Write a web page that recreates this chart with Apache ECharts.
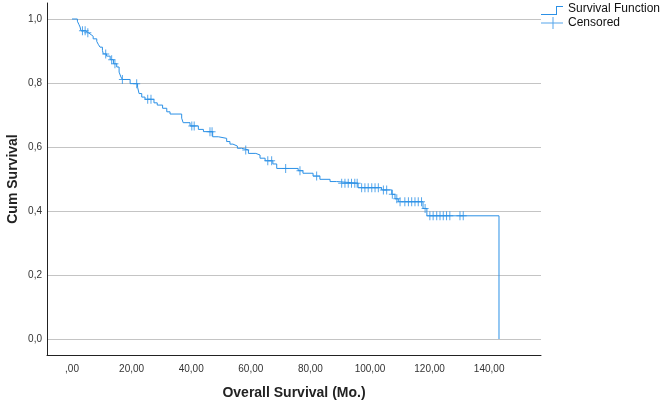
<!DOCTYPE html>
<html><head><meta charset="utf-8">
<script src="https://cdn.jsdelivr.net/npm/echarts@6/dist/echarts.min.js"></script>
<style>html,body{margin:0;padding:0;background:#fff}#c{width:663px;height:401px}</style>
</head><body><div id="c"></div>
<script>
// Kaplan-Meier step points: survival becomes surv[i] at times[i]
const times = [0, 1.8, 2.3, 2.7, 3.0, 4.6, 5.5, 6.4, 7.1, 8.3, 8.8, 9.4, 10.2, 10.5, 11.6, 12.8, 13.9, 15.0, 15.8, 16.4, 16.9, 19.5, 22.0, 22.5, 23.4, 24.5, 27.5, 28.6, 30.4, 31.8, 32.9, 36.8, 37.3, 39.6, 42.4, 44.1, 47.2, 49.1, 51.9, 53.0, 54.0, 55.5, 56.9, 59.2, 61.7, 63.1, 64.8, 67.4, 68.7, 75.9, 77.5, 80.9, 83.2, 86.6, 88.8, 96.0, 103.9, 107.3, 108.4, 109.5, 117.8, 119.1, 143.3];
const surv = [1.000, 0.993, 0.983, 0.975, 0.963, 0.957, 0.951, 0.946, 0.938, 0.930, 0.921, 0.912, 0.902, 0.891, 0.884, 0.873, 0.860, 0.850, 0.834, 0.819, 0.811, 0.798, 0.787, 0.767, 0.756, 0.749, 0.738, 0.731, 0.721, 0.710, 0.703, 0.690, 0.676, 0.666, 0.655, 0.648, 0.632, 0.627, 0.617, 0.609, 0.603, 0.596, 0.591, 0.580, 0.575, 0.565, 0.557, 0.547, 0.533, 0.526, 0.518, 0.509, 0.499, 0.492, 0.487, 0.473, 0.466, 0.452, 0.438, 0.429, 0.408, 0.385, 0.000];
const censoredTimes = [3.5, 4.4, 5.3, 11.3, 13.3, 14.4, 16.9, 21.7, 25.4, 26.5, 40.2, 41.0, 46.3, 47.0, 58.3, 65.7, 67.0, 71.7, 76.5, 82.1, 90.5, 91.6, 92.7, 93.8, 94.9, 95.7, 97.2, 98.3, 99.4, 100.6, 101.7, 102.8, 104.5, 105.6, 107.5, 109.0, 110.1, 111.7, 112.9, 114.0, 115.1, 116.2, 117.3, 118.5, 120.1, 121.2, 122.4, 123.5, 124.6, 125.7, 126.8, 130.2, 131.3];
const xTicks = [0, 20, 40, 60, 80, 100, 120, 140];
const yTicks = [0, 0.2, 0.4, 0.6, 0.8, 1.0];
const seriesNames = ['Survival Function', 'Censored'];

function survAt(t) {
  let s = surv[0];
  for (let i = 0; i < times.length; i++) { if (times[i] <= t) s = surv[i]; else break; }
  return s;
}

const BLUE = '#2B90E6';
const FONT = '"Liberation Sans", Arial, sans-serif';
const chart = echarts.init(document.getElementById('c'), null, {renderer: 'canvas'});
chart.setOption({
  animation: false,
  backgroundColor: '#fff',
  textStyle: {fontFamily: FONT},
  grid: {left: 47, right: 122, top: 3, bottom: 46, outerBoundsMode: 'none'},
  legend: {
    orient: 'vertical', left: 541, top: 3, padding: 0, itemGap: 2,
    itemWidth: 22, itemHeight: 12, selectedMode: false,
    textStyle: {fontSize: 12, color: '#111', fontFamily: FONT},
    data: [
      {name: seriesNames[0], icon: 'path://M0,0M0,11h15v1h-15z M15,3h1v9h-1z M15,3h7v1h-7z M22,12'},
      {name: seriesNames[1], icon: 'path://M0,5.5h22v1h-22z M11.5,0h1v12h-1z'}
    ]
  },
  xAxis: {
    type: 'value', min: -8.4, max: 157.4,
    axisLine: {show: true, onZero: false, lineStyle: {color: '#222', width: 1}},
    axisTick: {show: false, customValues: xTicks},
    splitLine: {show: false},
    axisLabel: {customValues: xTicks, fontSize: 10, color: '#333', margin: 9,
      formatter: v => v === 0 ? ',00' : v.toFixed(2).replace('.', ',')},
    name: 'Overall Survival (Mo.)', nameLocation: 'middle', nameGap: 31,
    nameTextStyle: {fontSize: 14, fontWeight: 'bold', color: '#222', fontFamily: FONT}
  },
  yAxis: {
    type: 'value', min: -0.05, max: 1.05,
    axisLine: {show: true, onZero: false, lineStyle: {color: '#222', width: 1}},
    axisTick: {show: false, customValues: yTicks},
    splitLine: {show: true, lineStyle: {color: '#c4c4c4', width: 1}},
    axisLabel: {customValues: yTicks, fontSize: 10, color: '#333', margin: 5,
      formatter: v => v.toFixed(1).replace('.', ',')},
    name: 'Cum Survival', nameLocation: 'middle', nameGap: 27, nameMoveOverlap: false,
    nameTextStyle: {fontSize: 14, fontWeight: 'bold', color: '#222', fontFamily: FONT}
  },
  series: [
    {
      name: seriesNames[0], type: 'line', step: 'end', showSymbol: false, symbol: 'none',
      data: times.map((t, i) => [t, surv[i]]),
      lineStyle: {color: BLUE, width: 1}, itemStyle: {color: BLUE}, silent: true
    },
    {
      name: seriesNames[1], type: 'scatter',
      data: censoredTimes.map(t => [t, survAt(t)]),
      symbol: 'path://M0,4h7v1h-7z M3,0h1v9h-1z', symbolSize: [7, 9],
      itemStyle: {color: BLUE}, silent: true
    }
  ]
});
</script></body></html>
